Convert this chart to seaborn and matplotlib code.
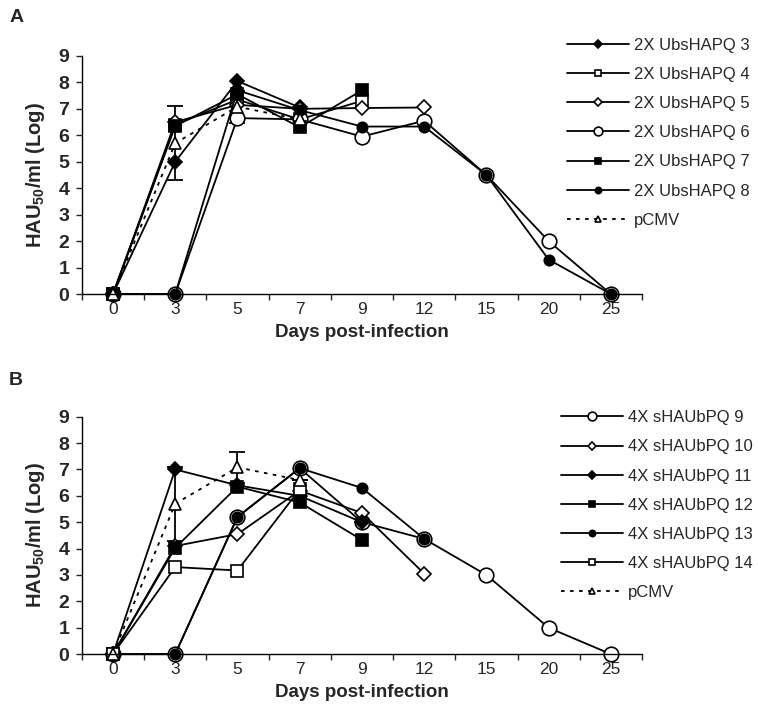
import matplotlib
matplotlib.use("Agg")
import matplotlib.pyplot as plt
import seaborn as sns
import pandas as pd

sns.set_style("white")
plt.rcParams['font.family'] = ['Liberation Sans', 'DejaVu Sans']
plt.rcParams['mathtext.fontset'] = 'custom'
plt.rcParams['mathtext.bf'] = 'Liberation Sans:bold'
plt.rcParams['mathtext.rm'] = 'Liberation Sans:bold'

days = ['0', '3', '5', '7', '9', '12', '15', '20', '25']

# panel A
ubs3 = [0, 5.0, 8.05, 7.05]
ubs4 = [0, 6.4, 7.35, 6.6, 7.3]
ubs5 = [0, 6.5, 7.15, 7.0, 7.03, 7.05]
ubs6 = [0, 0, 6.65, 6.6, 5.95, 6.55, 4.5, 2.0, 0]
ubs7 = [0, 6.35, 7.55, 6.3, 7.7]
ubs8 = [0, 0, 7.7, 6.95, 6.33, 6.33, 4.5, 1.3, 0]

# panel B
sha9 = [0, 0, 5.2, 7.05, 5.0, 4.37, 3.0, 1.0, 0]
sha10 = [0, 4.1, 4.55, 6.2, 5.35, 3.05]
sha11 = [0, 7.0, 6.4, 6.0, 5.0]
sha12 = [0, 4.03, 6.35, 5.75, 4.33]
sha13 = [0, 0, 5.2, 7.05, 6.3, 4.37]
sha14 = [0, 3.3, 3.17, 6.25]

pcmv = [0, 5.7, 7.08, 6.6]
pcmv_err = [0, 1.4, 0.6, 0]

# marker styles: (marker, size, filled)
STY = {
    'fdia': ('D', 7.0, True), 'odia': ('D', 7.0, False),
    'fsq': ('s', 8.0, True), 'osq': ('s', 8.0, False),
    'fcir': ('o', 7.5, True), 'ocir': ('o', 10.5, False),
}

series_a = [('2X UbsHAPQ 3', ubs3, 'fdia'), ('2X UbsHAPQ 4', ubs4, 'osq'),
            ('2X UbsHAPQ 5', ubs5, 'odia'), ('2X UbsHAPQ 6', ubs6, 'ocir'),
            ('2X UbsHAPQ 7', ubs7, 'fsq'), ('2X UbsHAPQ 8', ubs8, 'fcir')]
series_b = [('4X sHAUbPQ 9', sha9, 'ocir'), ('4X sHAUbPQ 10', sha10, 'odia'),
            ('4X sHAUbPQ 11', sha11, 'fdia'), ('4X sHAUbPQ 12', sha12, 'fsq'),
            ('4X sHAUbPQ 13', sha13, 'fcir'), ('4X sHAUbPQ 14', sha14, 'osq')]


def draw_panel(ax, series):
    for name, vals, key in series:
        m, ms, filled = STY[key]
        df = pd.DataFrame({'x': range(len(vals)), 'y': vals})
        sns.lineplot(data=df, x='x', y='y', ax=ax, color='black', lw=1.3,
                     marker=m, markersize=ms, markeredgecolor='black',
                     markeredgewidth=1.2,
                     markerfacecolor='black' if filled else 'white',
                     label=name, clip_on=False, sort=False)
    df = pd.DataFrame({'x': range(len(pcmv)), 'y': pcmv})
    ax.errorbar(df['x'], df['y'], yerr=pcmv_err, fmt='none', ecolor='black',
                elinewidth=1.3, capsize=6, capthick=1.3, zorder=1)
    sns.lineplot(data=df, x='x', y='y', ax=ax, color='black', lw=1.3,
                 linestyle=(0, (2, 3)), marker='^', markersize=8,
                 markeredgecolor='black', markeredgewidth=1.2,
                 markerfacecolor='white', label='pCMV', clip_on=False, sort=False)

    ax.set_xlim(-0.5, 8.5)
    ax.set_ylim(0, 9)
    ax.set_xticks(range(len(days)))
    ax.set_xticklabels(days, fontsize=12.5)
    ax.set_xticks([i - 0.5 for i in range(len(days) + 1)], minor=True)
    ax.tick_params(axis='x', which='major', length=0, pad=6)
    ax.tick_params(axis='x', which='minor', length=4, width=1, direction='out')
    ax.set_yticks(range(10))
    ax.set_yticklabels([str(i) for i in range(10)], fontsize=14, fontweight='bold')
    ax.tick_params(axis='y', length=4, width=1, direction='out', pad=5)
    ax.tick_params(left=True, bottom=True, which='both')
    for s in ['top', 'right']:
        ax.spines[s].set_visible(False)
    for s in ['left', 'bottom']:
        ax.spines[s].set_color('black')
        ax.spines[s].set_linewidth(1.0)
    ax.set_xlabel('Days post-infection', fontsize=13.5, fontweight='bold', labelpad=5)
    ax.set_ylabel(r'HAU$_{\mathbf{50}}$/ml (Log)', fontsize=14.5, fontweight='bold', labelpad=8)
    ax.get_legend().remove()


fig = plt.figure(figsize=(7.58, 7.26), dpi=100)
ax_a = fig.add_axes([0.108, 0.595, 0.739, 0.328])
ax_b = fig.add_axes([0.108, 0.099, 0.739, 0.327])

draw_panel(ax_a, series_a)
draw_panel(ax_b, series_b)

for ax, anchor in [(ax_a, (0.748, 0.948)), (ax_b, (0.740, 0.435))]:
    h, l = ax.get_legend_handles_labels()
    fig.legend(h, l, loc='upper left', bbox_to_anchor=anchor, frameon=False,
               fontsize=12, handlelength=3.7, handletextpad=0.3,
               labelspacing=0.85, markerscale=0.6, borderpad=0, borderaxespad=0)

fig.text(0.012, 0.987, 'A', fontsize=14, fontweight='bold', va='top')
fig.text(0.012, 0.487, 'B', fontsize=14, fontweight='bold', va='top')

fig.savefig('out.png', dpi=100)
